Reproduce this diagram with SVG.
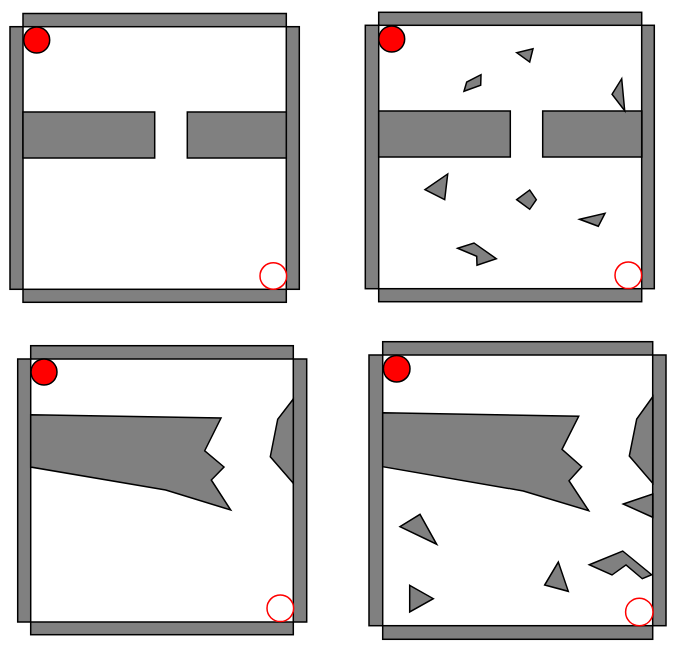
<svg xmlns="http://www.w3.org/2000/svg" width="676" height="651" viewBox="0 0 676 651">
<style>
.w{fill:#808080;stroke:#000;stroke-width:1.5}
.o{fill:#808080;stroke:#000;stroke-width:1.5;stroke-linejoin:miter}
.ball{fill:#ff0000;stroke:#000;stroke-width:1.5}
.goal{fill:#fff;stroke:#ff0000;stroke-width:1.5}
</style>
<rect width="676" height="651" fill="#fff"/>
<g id="panel1">
<rect class="w" x="23" y="13.5" width="263.3" height="13.2"/>
<rect class="w" x="10" y="26.7" width="13" height="262.6"/>
<rect class="w" x="286.3" y="26.7" width="13" height="262.6"/>
<rect class="w" x="23" y="289.3" width="263.3" height="13"/>
<rect class="o" x="23" y="112" width="131.7" height="46"/>
<rect class="o" x="187.3" y="112" width="99" height="46"/>
<circle class="ball" cx="36.7" cy="40" r="13"/>
<circle class="goal" cx="273.3" cy="276" r="13.3"/>
</g>
<g id="panel2">
<rect class="w" x="378.7" y="12.3" width="263" height="13"/>
<rect class="w" x="365.3" y="25.3" width="13.4" height="263.4"/>
<rect class="w" x="641.7" y="25.3" width="12.6" height="263.4"/>
<rect class="w" x="378.7" y="288.7" width="263" height="13"/>
<rect class="o" x="378.7" y="111" width="131.6" height="46"/>
<rect class="o" x="542.7" y="111" width="99" height="46"/>
<polygon class="o" points="516.7,52.7 533,48.7 529.7,62"/>
<polygon class="o" points="464,91.3 466.7,82 481,74.7 480.7,85.3"/>
<polygon class="o" points="612,94.3 621.7,78.7 624.7,110.7"/>
<polygon class="o" points="425,189.7 447.7,174 444.7,199.7"/>
<polygon class="o" points="516.7,199.7 529.7,190 536.3,199.7 529.7,209.3"/>
<polygon class="o" points="579.7,219.3 605,213.3 598.3,226.3"/>
<polygon class="o" points="457.7,248.3 474,243 496.3,258.7 477,265.3 476.7,256.3"/>
<circle class="ball" cx="391.7" cy="39" r="13"/>
<circle class="goal" cx="628.3" cy="275.3" r="13.3"/>
</g>
<g id="panel3">
<rect class="w" x="30.7" y="345.7" width="262.6" height="13.3"/>
<rect class="w" x="17.7" y="359" width="13" height="263"/>
<rect class="w" x="293.3" y="359" width="13.4" height="263"/>
<rect class="w" x="30.7" y="622" width="262.6" height="12.7"/>
<polygon class="o" points="30.7,414.7 221,418 204.7,450.7 224,467 211.3,480 230.7,510 165.7,490 30.7,467"/>
<polygon class="o" points="293.3,399 277.7,419.3 270.3,456.7 293.3,483.3"/>
<circle class="ball" cx="44" cy="372" r="13"/>
<circle class="goal" cx="280.3" cy="608.3" r="13.3"/>
</g>
<g id="panel4">
<rect class="w" x="382.7" y="341.7" width="270" height="13.3"/>
<rect class="w" x="369" y="355" width="13.7" height="270.7"/>
<rect class="w" x="652.7" y="355" width="13.3" height="270.7"/>
<rect class="w" x="382.7" y="625.7" width="270" height="13.6"/>
<polygon class="o" points="382.7,412.7 578.7,416.3 562,449.3 581.7,466.7 569,480.7 588.7,510.7 523.3,491 382.7,466.7"/>
<polygon class="o" points="652.7,396.7 636.7,419 629.3,456 652.7,483.3"/>
<polygon class="o" points="623.3,504 652.7,494 652.7,517.3"/>
<polygon class="o" points="400,526.7 420,514.3 436.7,544.3"/>
<polygon class="o" points="409.7,585.3 433.3,598.7 409.7,612"/>
<polygon class="o" points="544.7,585 558.3,562 568.3,591.3"/>
<polygon class="o" points="589.3,564.7 622.7,551 651.7,574.7 642.3,578.7 626,565 612,575"/>
<circle class="ball" cx="396.7" cy="368.7" r="13.3"/>
<circle class="goal" cx="639.3" cy="612" r="13.7"/>
</g>
</svg>
